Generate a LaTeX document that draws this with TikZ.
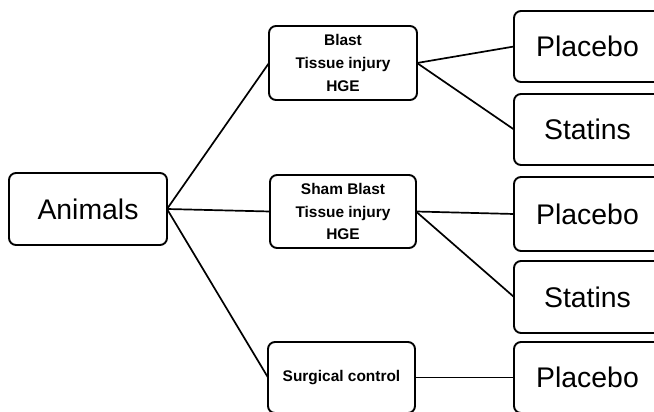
\documentclass[tikz,border=0pt]{standalone}
\usepackage{fontspec}
\setmainfont{Liberation Sans}
\begin{document}
\begin{tikzpicture}[line join=round,
  groupbox/.style={draw, rounded corners=7bp, line width=1.9bp, inner sep=0pt, outer sep=0pt, align=center},
  bigtext/.style={groupbox, font=\fontsize{28.5}{32}\selectfont},
  smalltext/.style={groupbox, font=\bfseries\fontsize{15.5}{23}\selectfont},
  branch/.style={line width=1.7bp}]
  \useasboundingbox (0bp,0bp) rectangle (654bp,412bp);
  \clip (0bp,0bp) rectangle (654bp,412bp);
%%
  % Node: Animals
  \node [bigtext, minimum width=158bp, minimum height=72bp] (animals) at (88bp,203bp) {Animals};
  % Node: Blast
  \node [smalltext, minimum width=148bp, minimum height=74bp] (blast) at (343bp,349bp) {Blast\\Tissue injury\\HGE};
  % Node: Sham
  \node [smalltext, minimum width=146bp, minimum height=73bp] (sham) at (343bp,200.5bp) {Sham Blast\\Tissue injury\\HGE};
  % Node: Surgical
  \node [smalltext, minimum width=147bp, minimum height=71bp] (surgical) at (341.5bp,34.5bp) {Surgical control};
  % Node: PlaceboA
  \node [bigtext, minimum width=147bp, minimum height=71bp] (placeboA) at (587.5bp,365.5bp) {Placebo};
  % Node: StatinsA
  \node [bigtext, minimum width=147bp, minimum height=71bp] (statinsA) at (587.5bp,282.5bp) {Statins};
  % Node: PlaceboB
  \node [bigtext, minimum width=147bp, minimum height=74bp] (placeboB) at (587.5bp,198bp) {Placebo};
  % Node: StatinsB
  \node [bigtext, minimum width=147bp, minimum height=72bp] (statinsB) at (587.5bp,115bp) {Statins};
  % Node: PlaceboC
  \node [bigtext, minimum width=147bp, minimum height=71bp] (placeboC) at (587.5bp,34.5bp) {Placebo};
%
  % Edge: Animals -> Blast, Sham, Surgical
  \draw [branch] (animals.east) -- (blast.west);
  \draw [branch] (animals.east) -- (sham.west);
  \draw [branch] (animals.east) -- (surgical.west);
  % Edge: Blast -> PlaceboA, StatinsA
  \draw [branch] (blast.east) -- (placeboA.west);
  \draw [branch] (blast.east) -- (statinsA.west);
  % Edge: Sham -> PlaceboB, StatinsB
  \draw [branch] (sham.east) -- (placeboB.west);
  \draw [branch] (sham.east) -- (statinsB.west);
  % Edge: Surgical -> PlaceboC
  \draw [branch] (surgical.east) -- (placeboC.west);
%
\end{tikzpicture}
\end{document}
